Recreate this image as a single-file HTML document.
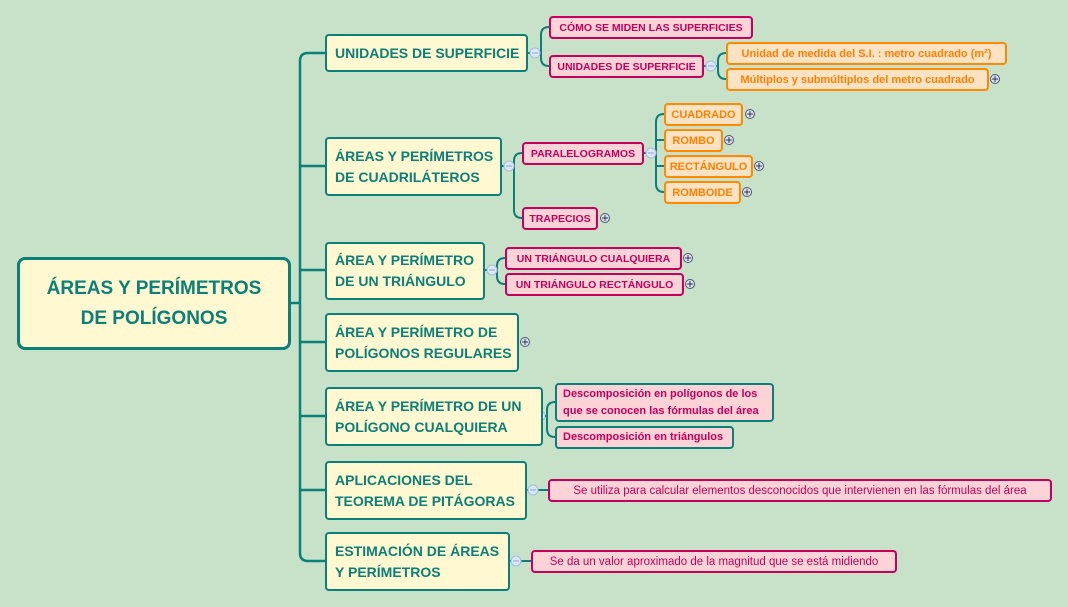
<!DOCTYPE html>
<html><head><meta charset="utf-8"><style>
body{margin:0;width:1068px;height:607px;background:#c7e2c9;position:relative;overflow:hidden;font-family:"Liberation Sans",sans-serif;font-weight:bold}
.n{position:absolute;box-sizing:border-box;display:flex;align-items:center;white-space:nowrap;border-radius:4px}
.r{border:3px solid #0b7f78;background:#fff8d0;color:#0b7f78;border-radius:8px;justify-content:center;text-align:center;font-size:19px;line-height:30px}
.l{border:2px solid #0b7f78;background:#fff8d0;color:#0b7f78;font-size:14px;line-height:21px;padding-left:8px}
.p{border:2px solid #c4005c;background:#fcd3d6;color:#c4005c;font-size:10.5px;justify-content:center}
.o{border:2px solid #ff8a00;background:#fde3c4;color:#ff8000;font-size:11px;justify-content:center}
.t{border:2px solid #0b7f78;background:#fcd3d6;color:#c4005c;font-size:11px;padding-left:6px;line-height:17px}
.w{font-weight:normal;font-size:11.5px}
</style></head><body>
<svg width="1068" height="607" style="position:absolute;left:0;top:0" fill="none" stroke="#0b7f78" stroke-width="2.5">
<path d="M290,303H300M300,61V553M300,61Q300,53 308,53H325M300,553Q300,561 308,561H325M300,166H325M300,270H325M300,342H325M300,416H325M300,490H325"/>
<g stroke-width="2">
<path d="M527,53H541M541,35V58M541,35Q541,27 549,27M541,58Q541,66 549,66"/>
<path d="M703,66H718M718,61V71M718,61Q718,53 726,53M718,71Q718,79 726,79"/>
<path d="M501,166H514M514,161V210M514,161Q514,153 522,153M514,210Q514,218 522,218"/>
<path d="M643,153H656M656,122V184M656,122Q656,114 664,114M656,184Q656,192 664,192M656,140H664M656,166H664"/>
<path d="M484,270H497M497,266V276M497,266Q497,258 505,258M497,276Q497,284 505,284"/>
<path d="M542,416H547M547,410V429M547,410Q547,402 555,402M547,429Q547,437 555,437"/>
<path d="M526,490H548M509,561H531"/>
</g>
<g stroke="#a8bce0" stroke-width="1" fill="#dbe6f6">
<circle cx="535" cy="53" r="5"/><circle cx="711" cy="66" r="5"/><circle cx="509" cy="166" r="5"/><circle cx="651" cy="153" r="5"/><circle cx="492" cy="270" r="5"/><circle cx="540" cy="416" r="5"/><circle cx="533" cy="490" r="5"/><circle cx="516" cy="561" r="5"/>
</g>
<g stroke="#8fa6d0" stroke-width="1"><path d="M532,53h6M708,66h6M506,166h6M648,153h6M489,270h6M537,416h6M530,490h6M513,561h6"/></g>
<g stroke="#4a5670" stroke-width="1" fill="#dde3ef">
<circle cx="995" cy="79" r="4.5"/><circle cx="750" cy="114" r="4.5"/><circle cx="729" cy="140" r="4.5"/><circle cx="759" cy="166" r="4.5"/><circle cx="747" cy="192" r="4.5"/><circle cx="605" cy="218" r="4.5"/><circle cx="688" cy="258" r="4.5"/><circle cx="690" cy="284" r="4.5"/><circle cx="525" cy="342" r="4.5"/>
</g>
<g stroke="#2a3550" stroke-width="1"><path d="M992,79h6M995,76v6M747,114h6M750,111v6M726,140h6M729,137v6M756,166h6M759,163v6M744,192h6M747,189v6M602,218h6M605,215v6M685,258h6M688,255v6M687,284h6M690,281v6M522,342h6M525,339v6"/></g>
</svg>
<div class="n r" style="left:17px;top:257px;width:274px;height:93px">ÁREAS Y PERÍMETROS<br>DE POLÍGONOS</div>
<div class="n l" style="left:325px;top:34px;width:203px;height:38px">UNIDADES DE SUPERFICIE</div>
<div class="n l" style="left:325px;top:137px;width:177px;height:59px">ÁREAS Y PERÍMETROS<br>DE CUADRILÁTEROS</div>
<div class="n l" style="left:325px;top:242px;width:160px;height:58px">ÁREA Y PERÍMETRO<br>DE UN TRIÁNGULO</div>
<div class="n l" style="left:325px;top:313px;width:194px;height:59px">ÁREA Y PERÍMETRO DE<br>POLÍGONOS REGULARES</div>
<div class="n l" style="left:325px;top:387px;width:218px;height:59px">ÁREA Y PERÍMETRO DE UN<br>POLÍGONO CUALQUIERA</div>
<div class="n l" style="left:325px;top:461px;width:202px;height:59px">APLICACIONES DEL<br>TEOREMA DE PITÁGORAS</div>
<div class="n l" style="left:325px;top:532px;width:185px;height:59px">ESTIMACIÓN DE ÁREAS<br>Y PERÍMETROS</div>
<div class="n p" style="left:549px;top:16px;width:204px;height:23px">CÓMO SE MIDEN LAS SUPERFICIES</div>
<div class="n p" style="left:549px;top:55px;width:155px;height:23px">UNIDADES DE SUPERFICIE</div>
<div class="n o" style="left:726px;top:42px;width:281px;height:23px">Unidad de medida del S.I. : metro cuadrado (m²)</div>
<div class="n o" style="left:726px;top:68px;width:263px;height:23px">Múltiplos y submúltiplos del metro cuadrado</div>
<div class="n p" style="left:522px;top:142px;width:122px;height:23px">PARALELOGRAMOS</div>
<div class="n p" style="left:522px;top:207px;width:76px;height:23px">TRAPECIOS</div>
<div class="n o" style="left:664px;top:103px;width:79px;height:23px">CUADRADO</div>
<div class="n o" style="left:664px;top:129px;width:59px;height:23px">ROMBO</div>
<div class="n o" style="left:664px;top:155px;width:89px;height:23px">RECTÁNGULO</div>
<div class="n o" style="left:664px;top:181px;width:77px;height:23px">ROMBOIDE</div>
<div class="n p" style="left:505px;top:247px;width:177px;height:23px">UN TRIÁNGULO CUALQUIERA</div>
<div class="n p" style="left:505px;top:273px;width:179px;height:23px">UN TRIÁNGULO RECTÁNGULO</div>
<div class="n t" style="left:555px;top:383px;width:219px;height:39px">Descomposición en polígonos de los<br>que se conocen las fórmulas del área</div>
<div class="n t" style="left:555px;top:426px;width:179px;height:23px">Descomposición en triángulos</div>
<div class="n p w" style="left:548px;top:479px;width:504px;height:23px">Se utiliza para calcular elementos desconocidos que intervienen en las fórmulas del área</div>
<div class="n p w" style="left:531px;top:550px;width:366px;height:23px">Se da un valor aproximado de la magnitud que se está midiendo</div>
</body></html>
